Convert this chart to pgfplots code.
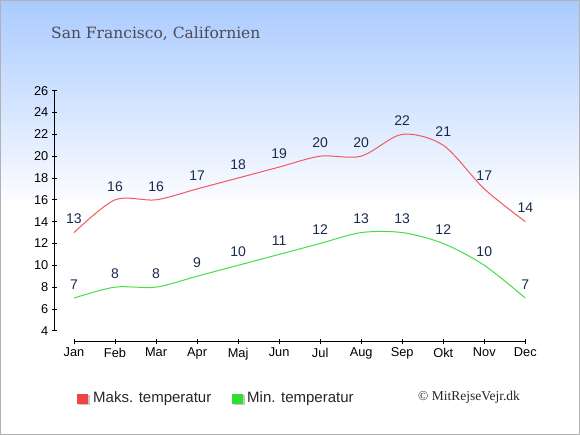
\documentclass[border=0pt]{standalone}
\usepackage{pgfplots}
\pgfplotsset{compat=1.18}
\usepackage{fontspec}
\setmainfont{Liberation Sans}
\newfontfamily\titlefont{DejaVu Serif}
\newfontfamily\copyfont{Liberation Serif}
\definecolor{topblue}{RGB}{170,202,255}
\definecolor{lowblue}{RGB}{251,252,255}
\definecolor{maxred}{RGB}{240,90,90}
\definecolor{mingreen}{RGB}{70,222,70}
\definecolor{legred}{RGB}{238,68,68}
\definecolor{leggreen}{RGB}{50,221,50}
\definecolor{labelnavy}{RGB}{26,42,74}
\definecolor{titlegray}{RGB}{75,75,85}
\begin{document}
\begin{tikzpicture}[x=1pt,y=1pt]
\fill[white] (0,0) rectangle (580,435);
\shade[top color=topblue, bottom color=lowblue] (0,235) rectangle (580,435);
\draw[gray!60, line width=1.2pt] (0.6,0.6) rectangle (579.4,434.4);
\node[anchor=base west, inner sep=0, text=titlegray, font=\titlefont\fontsize{15.5}{18}\selectfont] at (51,396.7) {San Francisco, Californien};
\begin{axis}[
  scale only axis, width=471.0pt, height=251.0pt,
  at={(54.3pt,93.3pt)}, anchor=south west,
  xmin=-0.48, xmax=11, ymin=3, ymax=26,
  axis x line*=bottom, axis y line*=left,
  axis line style={draw=none},
  xtick={0,...,11},
  xticklabels={Jan,Feb,Mar,Apr,Maj,Jun,Jul,Aug,Sep,Okt,Nov,Dec},
  ytick={4,6,...,26},
  tick align=center, major tick length=5pt,
  tick style={black, line width=0.8pt},
  ticklabel style={font=\fontsize{12.8}{14}\selectfont, text=black},
  /pgf/number format/assume math mode=true,
  clip=false,
  nodes near coords,
  every node near coord/.append style={font=\fontsize{14}{16}\selectfont, text=labelnavy, anchor=center, inner sep=0pt, yshift=13.5pt},
]
\draw[black, line width=0.8pt] (axis cs:-0.48,4) -- (axis cs:-0.48,26);
\draw[black, line width=0.8pt] (axis cs:0,3) -- (axis cs:11,3);
\addplot[maxred, line width=1pt, smooth] coordinates {
(0,13)(1,16)(2,16)(3,17)(4,18)(5,19)(6,20)(7,20)(8,22)(9,21)(10,17)(11,14)};
\addplot[mingreen, line width=1pt, smooth] coordinates {
(0,7)(1,8)(2,8)(3,9)(4,10)(5,11)(6,12)(7,13)(8,13)(9,12)(10,10)(11,7)};
\end{axis}
\fill[gray!45] (78.5,29.5) rectangle (89.5,39.5);
\fill[legred] (77,31) rectangle (88,41);
\node[anchor=base west, inner sep=0, text=black!85, font=\fontsize{15}{17}\selectfont] at (93,32) {Maks. temperatur};
\fill[gray!45] (233.5,29.5) rectangle (244.5,39.5);
\fill[leggreen] (232,31) rectangle (243,41);
\node[anchor=base west, inner sep=0, text=black!85, font=\fontsize{15}{17}\selectfont] at (247,32) {Min. temperatur};
\node[anchor=base west, inner sep=0, text=black!85, font=\copyfont\fontsize{13.5}{16}\selectfont] at (418,34) {© MitRejseVejr.dk};
\end{tikzpicture}
\end{document}
